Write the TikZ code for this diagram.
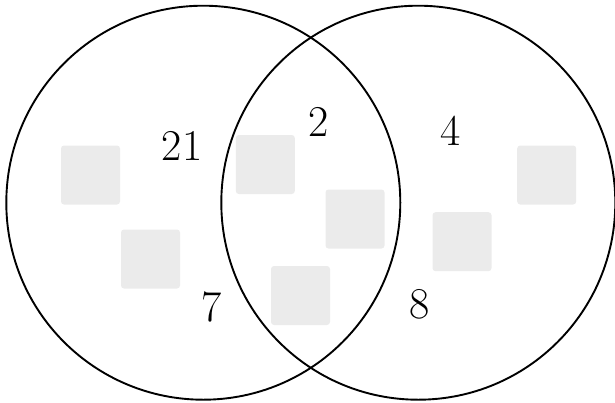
\documentclass[tikz,border=0pt]{standalone}
\usepackage{tikz}
\usetikzlibrary{positioning}
\definecolor{boxgray}{HTML}{EBEBEB}

\begin{document}
\begin{tikzpicture}[
  x=1pt, y=-1pt,
  setring/.style={draw, circle, line width=1.9pt, minimum size=394pt, inner sep=0pt},
  tile/.style={fill=boxgray, rounded corners=3pt, minimum size=59pt, inner sep=0pt},
  count/.style={font=\fontsize{44}{50}\selectfont, inner sep=0pt},
]
\useasboundingbox (0,0) rectangle (615,402);

% grey tiles
\node[tile] (t1) at (90.5,175) {};
\node[tile] (t2) at (150.5,259) {};
\node[tile] (t3) at (265.3,164.5) {};
\node[tile] (t4) at (355,219) {};
\node[tile] (t5) at (300.5,295.5) {};
\node[tile] (t6) at (546.7,175) {};
\node[tile] (t7) at (462,241.7) {};

% the two sets
\node[setring] (setA) at (203.3,202.7) {};
\node[setring] (setB) at (418.3,202.7) {};

% counts
\node[count] (nA) at (182,146) {21};
\node[count] (nAB) at (319,121.5) {2};
\node[count] (nB) at (451,131) {4};
\node[count] (nAlow) at (211.7,307) {7};
\node[count] (nBlow) at (419.7,304.5) {8};
\end{tikzpicture}
\end{document}
